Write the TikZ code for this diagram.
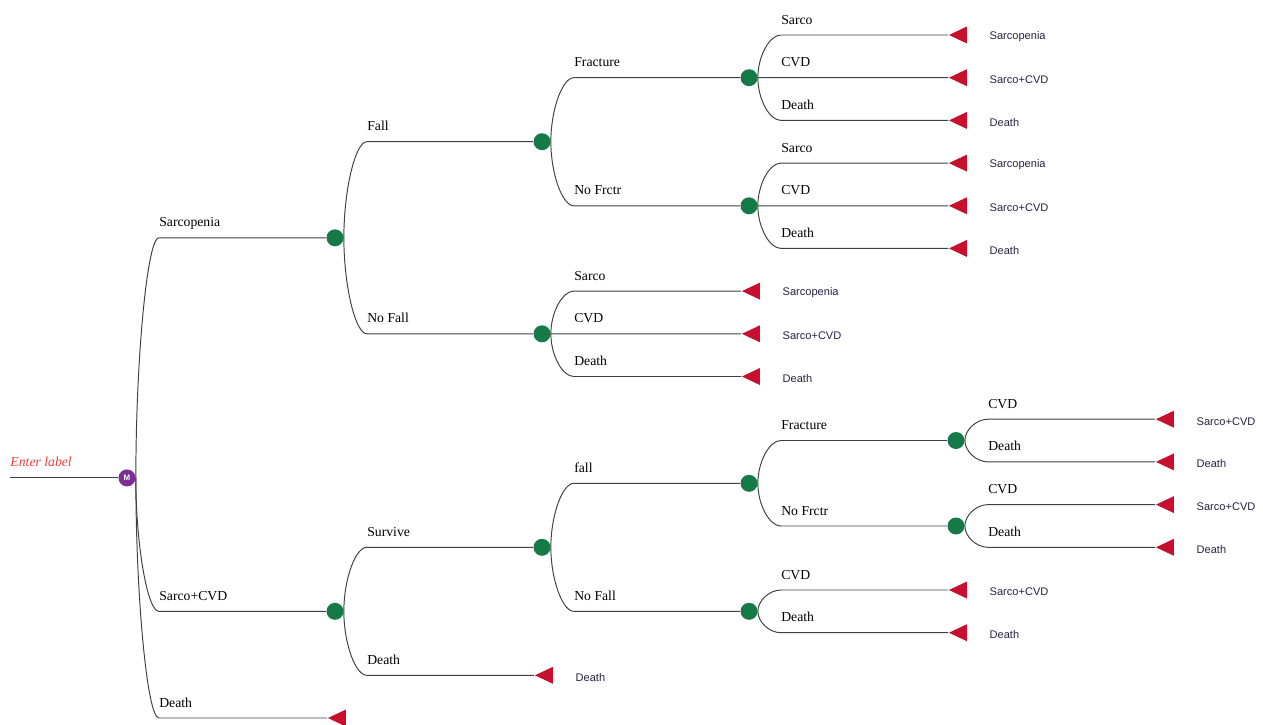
\documentclass[tikz,border=0pt]{standalone}
\usepackage{fontspec}
\setmainfont{Liberation Serif}
\newfontfamily\arialfont{Liberation Sans}
\usetikzlibrary{shapes.geometric,positioning,calc}
\definecolor{chancegreen}{RGB}{22,122,72}
\definecolor{termred}{RGB}{200,16,46}
\definecolor{markovpurple}{RGB}{122,48,150}
\definecolor{labelred}{RGB}{232,64,64}
\definecolor{endblue}{RGB}{40,34,64}

% branch from parent #1 to child #2, label #3
\newcommand\branch[3]{%
\draw[branchline] let \p1=(#1.east), \p2=(#2) in
  (\p1) .. controls ($(\p1)!0.5!(\x1,\y2)$) and ($(\x1,\y2)!0.5!(\x1+0.46cm,\y2)$) .. (\x1+0.46cm,\y2) -- (#2)
  node[blabel] at (\x1+0.46cm,\y2) {#3};}
% terminal node with its end text
\newcommand\leaf[4]{%
\node[term] (#1) at (#2,#3) {};
\node[endtext, right=0.44cm of #1] (#1t) {#4};}

\begin{document}
\begin{tikzpicture}[x=0.02cm,y=-0.02cm,
  branchline/.style={draw=black!75, line width=0.55pt},
  chance/.style={circle, fill=chancegreen, inner sep=0pt, minimum size=0.34cm},
  markov/.style={circle, fill=markovpurple, inner sep=0pt, minimum size=0.34cm,
    text=white, font=\arialfont\bfseries\fontsize{4.5}{4.5}\selectfont},
  term/.style={isosceles triangle, isosceles triangle stretches, shape border rotate=180,
    fill=termred, inner sep=0pt, minimum width=0.34cm, minimum height=0.36cm, anchor=apex},
  blabel/.style={anchor=base west, yshift=0.22cm, inner sep=0pt, font=\fontsize{7.8}{9}\selectfont},
  endtext/.style={inner sep=0pt, yshift=-0.04cm, text=endblue, font=\arialfont\fontsize{6.3}{7}\selectfont},
  ]
\useasboundingbox (0,0) rectangle (1263,724);

\coordinate (root) at (10,477.9);
\node[markov] (m) at (127,477.9) {M};
\draw[branchline] (root) -- (m)
  node[blabel, text=labelred, font=\itshape\fontsize{7.8}{9}\selectfont] at (root) {Enter label};

% chance nodes
\node[chance] (sarc) at (335,237.8) {};
\node[chance] (sacv) at (335,611.3) {};
\node[chance] (fall) at (542,141.7) {};
\node[chance] (nofall) at (542,333.8) {};
\node[chance] (surv) at (542,547.3) {};
\node[chance] (frac) at (749,77.7) {};
\node[chance] (nofrac) at (749,205.8) {};
\node[chance] (fall2) at (749,483.3) {};
\node[chance] (nofall2) at (749,611.3) {};
\node[chance] (frac2) at (956,440.5) {};
\node[chance] (nofrac2) at (956,526) {};

% terminals
\node[term] (mdth) at (327,718) {};
\leaf{sdth}{534}{675.3}{Death}
\leaf{nfs}{741}{291.1}{Sarcopenia}
\leaf{nfc}{741}{333.8}{Sarco+CVD}
\leaf{nfd}{741}{376.5}{Death}
\leaf{frs}{948}{35}{Sarcopenia}
\leaf{frc}{948}{77.7}{Sarco+CVD}
\leaf{frd}{948}{120.4}{Death}
\leaf{nrs}{948}{163.1}{Sarcopenia}
\leaf{nrc}{948}{205.8}{Sarco+CVD}
\leaf{nrd}{948}{248.4}{Death}
\leaf{n2c}{948}{590}{Sarco+CVD}
\leaf{n2d}{948}{632.7}{Death}
\leaf{f2c}{1155}{419.2}{Sarco+CVD}
\leaf{f2d}{1155}{461.9}{Death}
\leaf{r2c}{1155}{504.6}{Sarco+CVD}
\leaf{r2d}{1155}{547.3}{Death}

% branches
\foreach \src/\dst/\lbl in {m/sarc/Sarcopenia, m/sacv/Sarco+CVD, m/mdth/Death,
    sarc/fall/Fall, sarc/nofall/No Fall, sacv/surv/Survive, sacv/sdth/Death,
    fall/frac/Fracture, fall/nofrac/No Frctr,
    nofall/nfs/Sarco, nofall/nfc/CVD, nofall/nfd/Death,
    surv/fall2/fall, surv/nofall2/No Fall,
    frac/frs/Sarco, frac/frc/CVD, frac/frd/Death,
    nofrac/nrs/Sarco, nofrac/nrc/CVD, nofrac/nrd/Death,
    fall2/frac2/Fracture, fall2/nofrac2/No Frctr,
    nofall2/n2c/CVD, nofall2/n2d/Death,
    frac2/f2c/CVD, frac2/f2d/Death,
    nofrac2/r2c/CVD, nofrac2/r2d/Death}
  {\branch{\src}{\dst}{\lbl}}
\end{tikzpicture}
\end{document}
